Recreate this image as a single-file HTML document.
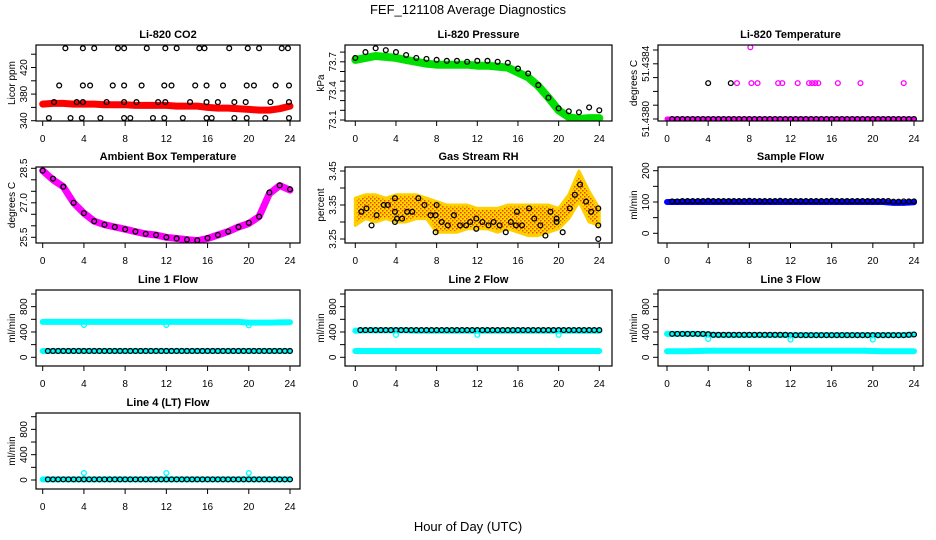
<!DOCTYPE html>
<html><head><meta charset="utf-8"><style>
html,body{margin:0;padding:0;background:#fff;}
svg{display:block;font-family:"Liberation Sans",Arial,sans-serif;}
</style></head><body>
<svg id="chart" width="936" height="540" viewBox="0 0 936 540" xmlns="http://www.w3.org/2000/svg">
<text x="468" y="14" font-size="13" text-anchor="middle">FEF_121108  Average Diagnostics</text>
<text x="468" y="531" font-size="13" text-anchor="middle">Hour of Day (UTC)</text>
</svg>
<script>
// ---------- data ----------
const hours = [0,1,2,3,4,5,6,7,8,9,10,11,12,13,14,15,16,17,18,19,20,21,22,23,24];
const halfHours = [0.5,1,1.5,2,2.5,3,3.5,4,4.5,5,5.5,6,6.5,7,7.5,8,8.5,9,9.5,10,10.5,11,11.5,12,12.5,13,13.5,14,14.5,15,15.5,16,16.5,17,17.5,18,18.5,19,19.5,20,20.5,21,21.5,22,22.5,23,23.5,24];

// CO2
const co2Band = [365,366,366,365,365,365,364,364,364,363,363,363,363,362,362,362,360,359,359,358,357,356,356,358,362];
const co2PtsH = [2.2,3.9,5,7.3,7.9,10.1,11.9,13,15.2,15.7,18.1,19.9,21,23.2,23.8, 1.6,3.9,4.6,6.8,7.9,9.6,11.8,12.5,14.8,15.9,17.5,19.8,20.5,22.6,23.9, 1.1,3.3,3.9,6.2,7.9,9.1,11.2,11.9,14.3,15.9,17,18.6,19.7,22.1,23.9, 0.6,2.7,3.8,5.6,7.9,8.5,10.7,11.8,13.6,15.9,16.4,18.6,19.8,21.6,23.9];
const co2PtsV = [449,449,449,449,449,449,449,449,449,449,449,449,449,449,449, 393,393,393,393,393,393,393,393,393,393,393,393,393,393,393, 368,368,368,368,368,368,368,368,368,368,368,368,368,368,368, 344,344,344,344,344,344,344,344,344,344,344,344,344,344,344];

// Pressure
const presBand = [73.72,73.74,73.76,73.75,73.74,73.72,73.70,73.68,73.67,73.67,73.67,73.67,73.66,73.66,73.65,73.64,73.59,73.54,73.45,73.33,73.20,73.13,73.11,73.12,73.12];
const presPts = [73.74,73.80,73.84,73.82,73.80,73.77,73.74,73.73,73.72,73.71,73.71,73.70,73.71,73.71,73.70,73.69,73.63,73.58,73.46,73.33,73.22,73.19,73.18,73.23,73.20];

// Li-820 temperature
const tempBase = [51.4380,51.4380,51.4380,51.4380,51.4380,51.4380,51.4380,51.4380,51.4380,51.4380,51.4380,51.4380,51.4380,51.4380,51.4380,51.4380,51.4380,51.4380,51.4380,51.4380,51.4380,51.4380,51.4380,51.4380,51.4380];
const tempHighMagH = [6.8,8.2,8.8,10.8,11.2,12.7,13.8,14.1,14.4,14.7,16.6,18.8,23.0,8.1];
const tempHighMagV = [51.43826,51.43826,51.43826,51.43826,51.43826,51.43826,51.43826,51.43826,51.43826,51.43826,51.43826,51.43826,51.43826,51.43852];
const tempHighBlkH = [4.0,6.2];
const tempHighBlkV = [51.43826,51.43826];

// Ambient box temperature
const ambBand = [28.4,28.0,27.7,27.0,26.55,26.2,26.05,25.95,25.85,25.75,25.65,25.6,25.5,25.45,25.4,25.35,25.45,25.6,25.75,25.95,26.1,26.4,27.4,27.75,27.55];
const ambPts = [28.4,28.05,27.7,27.0,26.55,26.2,26.05,25.95,25.85,25.75,25.65,25.6,25.5,25.45,25.4,25.37,25.47,25.6,25.75,25.95,26.13,26.4,27.45,27.76,27.59];

// Gas stream RH
const rhLow = [3.29,3.31,3.30,3.31,3.30,3.30,3.31,3.31,3.27,3.27,3.27,3.28,3.28,3.28,3.27,3.28,3.27,3.26,3.26,3.27,3.28,3.31,3.36,3.30,3.29];
const rhHigh = [3.37,3.38,3.38,3.37,3.38,3.38,3.38,3.37,3.36,3.35,3.35,3.35,3.34,3.34,3.34,3.35,3.35,3.35,3.35,3.35,3.34,3.38,3.45,3.39,3.34];
const rhPtsH = [0.6,1.1,1.6,2.1,2.8,3.2,3.9,3.9,3.9,4.1,4.6,5.1,5.6,6.2,6.8,7.4,7.9,8.0,7.9,8.5,9.1,9.7,10.3,10.9,11.3,11.9,11.9,12.5,13.1,13.6,14.2,14.8,15.3,15.8,15.9,16.4,17.1,17.6,18.2,18.7,19.2,19.8,19.8,20.4,21.1,21.6,22.1,22.7,23.2,23.9,23.9,23.9];
const rhPtsV = [3.33,3.34,3.29,3.32,3.35,3.35,3.37,3.33,3.30,3.31,3.31,3.33,3.33,3.37,3.35,3.32,3.32,3.35,3.27,3.30,3.29,3.32,3.29,3.29,3.30,3.31,3.28,3.30,3.29,3.30,3.29,3.27,3.30,3.29,3.33,3.29,3.34,3.31,3.29,3.26,3.33,3.31,3.30,3.27,3.34,3.38,3.41,3.36,3.33,3.34,3.29,3.25];

// Sample flow
const sampleBand = [100,100,100,100,100,100,100,100,100,100,100,100,100,100,100,100,100,100,100,100,100,100,97,97,99];
const samplePts = [102,102,103,103,103,103,103,104,103,103,103,103,103,103,103,104,103,103,103,103,103,104,103,103,103,103,103,103,103,103,103,104,103,103,103,103,103,103,103,103,103,103,103,101,101,102,102,102];

// Line flows
const line1Upper = [560,560,560,560,560,560,560,560,560,560,560,560,560,560,560,560,560,560,560,560,548,548,548,552,555];
const line1Lower = [100,100,100,100,100,100,100,100,100,100,100,100,100,100,100,100,100,100,100,100,100,100,100,100,100];
const line1Pts = [100,100,100,100,100,100,100,100,100,100,100,100,100,100,100,100,100,100,100,100,100,100,100,100,100,100,100,100,100,100,100,100,100,100,100,100,100,100,100,100,100,100,100,100,100,100,100,100];
const line1DipH = [4,12,20];
const line1DipV = [510,510,505];

const line2Upper = [420,425,425,425,425,425,420,420,420,420,420,420,420,420,420,420,420,420,420,420,420,420,420,420,420];
const line2Lower = [100,100,100,100,100,100,100,100,100,100,100,100,100,100,100,100,100,100,100,100,100,100,100,100,100];
const line2Pts = [430,430,430,430,430,430,430,430,430,430,430,430,430,430,430,430,430,430,430,430,430,430,430,430,430,430,430,430,430,430,430,430,430,430,430,430,430,430,430,430,430,430,430,430,430,430,430,430];
const line2DipH = [4,12,20];
const line2DipV = [355,355,355];

const line3Upper = [370,370,370,370,360,350,350,350,350,350,350,350,350,350,350,350,350,350,350,350,350,350,350,350,360];
const line3Lower = [95,95,95,100,105,105,105,105,105,105,105,105,105,105,105,105,105,105,105,105,100,95,95,95,95];
const line3Pts = [370,370,370,370,370,370,370,365,355,355,355,355,355,355,355,355,355,355,355,355,355,355,355,350,350,350,350,350,350,350,350,350,350,350,350,350,350,350,350,350,350,350,350,350,350,350,355,360];
const line3DipH = [4,12,20];
const line3DipV = [290,280,280];

const line4Band = [10,10,10,10,10,10,10,10,10,10,10,10,10,10,10,10,10,10,10,10,10,10,10,10,10];
const line4Pts = [10,10,10,10,10,10,10,10,10,10,10,10,10,10,10,10,10,10,10,10,10,10,10,10,10,10,10,10,10,10,10,10,10,10,10,10,10,10,10,10,10,10,10,10,10,10,10,10];
const line4DipH = [4,12,20];
const line4DipV = [110,110,110];

// tick values
const ticksCO2 = [340,360,380,400,420,440];
const labelsCO2 = [340,380,420];
const ticksPres = [73.1,73.2,73.3,73.4,73.5,73.6,73.7,73.8];
const labelsPres = ["73.1","73.4","73.7"];
const ticksTemp = [51.4380,51.4381,51.4382,51.4383,51.4384,51.4385];
const labelsTemp = ["51.4380","51.4384"];
const ticksAmb = [25.5,26.0,26.5,27.0,27.5,28.0,28.5];
const labelsAmb = ["25.5","27.0","28.5"];
const ticksRH = [3.25,3.30,3.35,3.40,3.45];
const labelsRH = ["3.25","3.35","3.45"];
const ticksSample = [0,50,100,150,200];
const labelsSample = [0,100,200];
const ticksFlow = [0,200,400,600,800,1000];
const labelsFlow = [0,400,800];
const xTicks = [0,4,8,12,16,20,24];

// ---------- layout ----------
const NS = "http://www.w3.org/2000/svg";
const svg = document.getElementById("chart");
const colBox = [[36,300],[345,612],[658,923]];
const colX0 = [42.7,355.3,667];
const colX24 = [290,599.3,914];
const rowTop = [45,167,290,413];
const boxH = 76;

function mk(tag, attrs, parent) {
  const e = document.createElementNS(NS, tag);
  for (const k in attrs) e.setAttribute(k, attrs[k]);
  (parent || svg).appendChild(e);
  return e;
}

function makePanel(col, row, title, ylab, refVal, refOff, pxPerUnit, ticks, labels, name) {
  const g = mk("g", {});
  
  
  const L = colBox[col][0], R = colBox[col][1], T = rowTop[row], B = T + boxH;
  const xs = h => colX0[col] + (colX24[col] - colX0[col]) * h / 24;
  const ys = v => T + refOff - (v - refVal) * pxPerUnit;
  const clipId = "clip-" + name;
  const cp = mk("clipPath", {id: clipId}, g);
  mk("rect", {x: L, y: T, width: R - L, height: boxH}, cp);
  const plot = mk("g", {"clip-path": "url(#" + clipId + ")"}, g);
  const box = mk("rect", {x: L, y: T, width: R - L, height: boxH, fill: "none", stroke: "#000", "stroke-width": 1.2}, g);
  
  
  const t = mk("text", {x: (L + R) / 2, y: T - 7, "font-size": 11, "font-weight": "bold", "text-anchor": "middle"}, g);
  t.textContent = title;
  
  
  const xa = mk("g", {}, g);
  
  
  mk("line", {x1: xs(0), x2: xs(24), y1: B, y2: B, stroke: "#000"}, xa);
  xTicks.forEach(h => {
    mk("line", {x1: xs(h), x2: xs(h), y1: B, y2: B + 5, stroke: "#000"}, xa);
    const tl = mk("text", {x: xs(h), y: B + 21, "font-size": 10, "text-anchor": "middle"}, xa);
    tl.textContent = h;
  });
  const ya = mk("g", {}, g);
  
  
  mk("line", {x1: L, x2: L, y1: ys(ticks[0]), y2: ys(ticks[ticks.length - 1]), stroke: "#000"}, ya);
  ticks.forEach(v => mk("line", {x1: L - 5, x2: L, y1: ys(v), y2: ys(v), stroke: "#000"}, ya));
  labels.forEach(v => {
    const yy = ys(parseFloat(v));
    const tl = mk("text", {x: 0, y: 0, "font-size": 10, "text-anchor": "middle", transform: "translate(" + (L - 9) + "," + yy + ") rotate(-90)"}, ya);
    tl.textContent = v;
  });
  const yt = mk("text", {x: 0, y: 0, "font-size": 10, "text-anchor": "middle", transform: "translate(" + (L - 21) + "," + (T + boxH / 2) + ") rotate(-90)"}, g);
  yt.textContent = ylab;
  
  
  return {plot, xs, ys};
}

function band(p, hs, vs, color, w, name) {
  const pts = hs.map((h, i) => p.xs(h).toFixed(1) + "," + p.ys(vs[i]).toFixed(1)).join(" ");
  const e = mk("polyline", {points: pts, fill: "none", stroke: color, "stroke-width": w, "stroke-linejoin": "round", "stroke-linecap": "round"}, p.plot);
  
  
}
function area(p, hs, lo, hi, fill, name) {
  const a = hs.map((h, i) => p.xs(h).toFixed(1) + "," + p.ys(hi[i]).toFixed(1));
  const b = hs.map((h, i) => p.xs(h).toFixed(1) + "," + p.ys(lo[i]).toFixed(1)).reverse();
  const e = mk("polygon", {points: a.concat(b).join(" "), fill: fill, stroke: "#ffd000", "stroke-width": 3, "stroke-linejoin": "round"}, p.plot);
  
  
}
function pts(p, hs, vs, color, name) {
  const g = mk("g", {}, p.plot);
  
  
  hs.forEach((h, i) => {
    const c = mk("circle", {cx: p.xs(h), cy: p.ys(vs[i]), r: 2.4, fill: "none", stroke: color, "stroke-width": 1.3}, g);
    
    
  });
}

const defs = mk("defs", {});
const pat = mk("pattern", {id: "rhpat", width: 4, height: 4, patternUnits: "userSpaceOnUse"}, defs);
mk("rect", {x: 0, y: 0, width: 4, height: 4, fill: "#ffd800"}, pat);
mk("rect", {x: 0, y: 0, width: 1.5, height: 1.5, fill: "#f04000"}, pat);
mk("rect", {x: 2, y: 2, width: 1.5, height: 1.5, fill: "#f04000"}, pat);

let p = makePanel(0, 0, "Li-820 CO2", "Licor ppm", 340, 75.7, 0.665, ticksCO2, labelsCO2.map(String), "co2");
band(p, hours, co2Band, "#ff0000", 7, "co2-band");
pts(p, co2PtsH, co2PtsV, "#000", "co2-points");

p = makePanel(1, 0, "Li-820 Pressure", "kPa", 73.1, 75, 97, ticksPres, labelsPres, "pressure");
band(p, hours, presBand, "#00e000", 8, "pressure-band");
pts(p, hours, presPts, "#000", "pressure-points");

p = makePanel(2, 0, "Li-820 Temperature", "degrees C", 51.4380, 74, 138000, ticksTemp, labelsTemp, "li820-temp");
band(p, hours, tempBase, "#ff00ff", 5, "li820-temp-band");
pts(p, halfHours, halfHours.map((h, i) => tempBase[Math.round(h)]), "#000", "li820-temp-points");
pts(p, tempHighMagH, tempHighMagV, "#ff00ff", "li820-temp-high-magenta");
pts(p, tempHighBlkH, tempHighBlkV, "#000", "li820-temp-high-black");

p = makePanel(0, 1, "Ambient Box Temperature", "degrees C", 25.5, 70.3, 23, ticksAmb, labelsAmb, "ambient");
band(p, hours, ambBand, "#ff00ff", 7, "ambient-band");
pts(p, hours, ambPts, "#000", "ambient-points");

p = makePanel(1, 1, "Gas Stream RH", "percent", 3.25, 72, 340, ticksRH, labelsRH, "rh");
area(p, hours, rhLow, rhHigh, "url(#rhpat)", "rh-band");
pts(p, rhPtsH, rhPtsV, "#000", "rh-points");

p = makePanel(2, 1, "Sample Flow", "ml/min", 0, 66.3, 0.313, ticksSample, labelsSample.map(String), "sample-flow");
band(p, hours, sampleBand, "#0000ff", 6, "sample-flow-band");
pts(p, halfHours, samplePts, "#000", "sample-flow-points");

p = makePanel(0, 2, "Line 1 Flow", "ml/min", 0, 67.3, 0.0633, ticksFlow, labelsFlow.map(String), "line1");
band(p, hours, line1Upper, "#00ffff", 6, "line1-upper-band");
band(p, hours, line1Lower, "#00ffff", 6, "line1-lower-band");
pts(p, halfHours, line1Pts, "#000", "line1-points");
pts(p, line1DipH, line1DipV, "#00ffff", "line1-dips");

p = makePanel(1, 2, "Line 2 Flow", "ml/min", 0, 67.3, 0.0633, ticksFlow, labelsFlow.map(String), "line2");
band(p, hours, line2Upper, "#00ffff", 6, "line2-upper-band");
band(p, hours, line2Lower, "#00ffff", 6, "line2-lower-band");
pts(p, halfHours, line2Pts, "#000", "line2-points");
pts(p, line2DipH, line2DipV, "#00ffff", "line2-dips");

p = makePanel(2, 2, "Line 3 Flow", "ml/min", 0, 67.3, 0.0633, ticksFlow, labelsFlow.map(String), "line3");
band(p, hours, line3Upper, "#00ffff", 6, "line3-upper-band");
band(p, hours, line3Lower, "#00ffff", 6, "line3-lower-band");
pts(p, halfHours, line3Pts, "#000", "line3-points");
pts(p, line3DipH, line3DipV, "#00ffff", "line3-dips");

p = makePanel(0, 3, "Line 4 (LT) Flow", "ml/min", 0, 67, 0.0633, ticksFlow, labelsFlow.map(String), "line4");
band(p, hours, line4Band, "#00ffff", 6, "line4-band");
pts(p, halfHours, line4Pts, "#000", "line4-points");
pts(p, line4DipH, line4DipV, "#00ffff", "line4-dips");
</script>
</body></html>
